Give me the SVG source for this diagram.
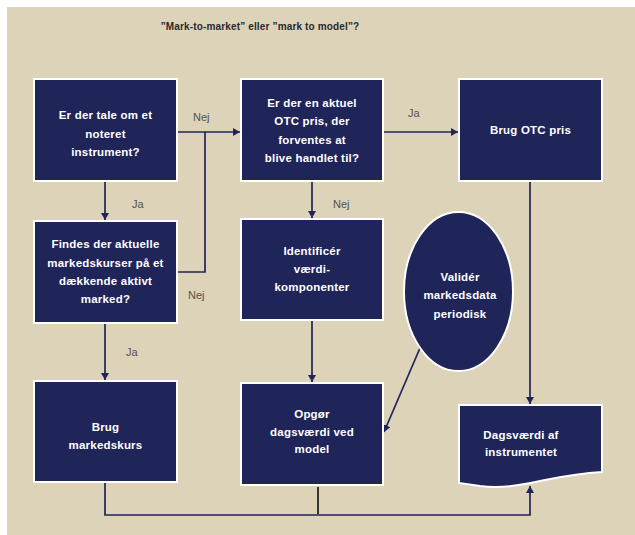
<svg xmlns="http://www.w3.org/2000/svg" width="635" height="535" viewBox="0 0 635 535">
<style>
.node{fill:#1F2459;stroke:#ffffff;stroke-width:2}
.t{font-family:"Liberation Sans",Arial,sans-serif;font-size:11.5px;font-weight:bold;fill:#ffffff;text-anchor:middle;letter-spacing:0.2px}
.lbl{font-family:"Liberation Sans",Arial,sans-serif;font-size:11px;fill:#55524a}
.c{fill:none;stroke:#1F2459;stroke-width:1.7}
</style>
<defs>
<marker id="ah" markerWidth="8" markerHeight="8" refX="7" refY="4" orient="auto" markerUnits="userSpaceOnUse">
<path d="M0,0 L7,4 L0,8 Z" fill="#1F2459"/>
</marker>
</defs>
<rect x="7" y="7" width="628" height="528" fill="#DDD3B9"/>
<text x="260" y="30" font-family="Liberation Sans,Arial,sans-serif" font-size="10" font-weight="bold" fill="#2a2a2a" text-anchor="middle" letter-spacing="0.15">”Mark-to-market” eller ”mark to model”?</text>

<g id="connectors">
<line class="c" x1="177" y1="132" x2="240" y2="132" marker-end="url(#ah)"/>
<polyline class="c" points="177,272 205,272 205,132"/>
<line class="c" x1="105" y1="181" x2="105" y2="220" marker-end="url(#ah)"/>
<line class="c" x1="105" y1="323" x2="105" y2="380" marker-end="url(#ah)"/>
<line class="c" x1="383" y1="132" x2="458" y2="132" marker-end="url(#ah)"/>
<line class="c" x1="312" y1="181" x2="312" y2="218" marker-end="url(#ah)"/>
<line class="c" x1="312" y1="320" x2="312" y2="382" marker-end="url(#ah)"/>
<line class="c" x1="530" y1="181" x2="530" y2="404" marker-end="url(#ah)"/>
<line class="c" x1="420" y1="348" x2="384" y2="432" marker-end="url(#ah)"/>
<polyline class="c" points="105,482 105,515 530,515 530,486" marker-end="url(#ah)"/>
<line x1="318" y1="487" x2="318" y2="514" stroke="#000000" stroke-width="1.5"/>
<text class="lbl" x="193" y="121">Nej</text>
<text class="lbl" x="132" y="208">Ja</text>
<text class="lbl" x="188" y="299">Nej</text>
<text class="lbl" x="126" y="356">Ja</text>
<text class="lbl" x="408" y="117">Ja</text>
<text class="lbl" x="333" y="208">Nej</text>
</g>

<g id="n1">
<rect class="node" x="34" y="79" width="143" height="102"/>
<text class="t" x="105.5" y="119">Er der tale om et</text>
<text class="t" x="105.5" y="137.5">noteret</text>
<text class="t" x="105.5" y="156">instrument?</text>
</g>
<g id="n2">
<rect class="node" x="34" y="221" width="143" height="102"/>
<text class="t" x="105.5" y="248">Findes der aktuelle</text>
<text class="t" x="105.5" y="266.5">markedskurser på et</text>
<text class="t" x="105.5" y="285">dækkende aktivt</text>
<text class="t" x="105.5" y="303">marked?</text>
</g>
<g id="n3">
<rect class="node" x="34" y="381" width="143" height="101"/>
<text class="t" x="105.5" y="431">Brug</text>
<text class="t" x="105.5" y="449">markedskurs</text>
</g>
<g id="n4">
<rect class="node" x="241" y="79" width="142" height="102"/>
<text class="t" x="312" y="107">Er der en aktuel</text>
<text class="t" x="312" y="125">OTC pris, der</text>
<text class="t" x="312" y="143.5">forventes at</text>
<text class="t" x="312" y="162">blive handlet til?</text>
</g>
<g id="n5">
<rect class="node" x="459" y="79" width="143" height="102"/>
<text class="t" x="530.5" y="134">Brug OTC pris</text>
</g>
<g id="n6">
<rect class="node" x="241" y="219" width="142" height="101"/>
<text class="t" x="312" y="255">Identificér</text>
<text class="t" x="312" y="273">værdi-</text>
<text class="t" x="312" y="291">komponenter</text>
</g>
<g id="n7">
<rect class="node" x="241" y="383" width="142" height="102"/>
<text class="t" x="312" y="418">Opgør</text>
<text class="t" x="312" y="436">dagsværdi ved</text>
<text class="t" x="312" y="453">model</text>
</g>
<g id="n8">
<ellipse class="node" cx="458.5" cy="291.5" rx="54.5" ry="79.5"/>
<text class="t" x="460" y="281">Validér</text>
<text class="t" x="460" y="299">markedsdata</text>
<text class="t" x="460" y="318">periodisk</text>
</g>
<g id="n9">
<path class="node" d="M459,405 L602,405 L602,472 C585,473 565,476 545,480 C525,484 505,489 480,486 L459,483 Z"/>
<text class="t" x="521" y="439">Dagsværdi af</text>
<text class="t" x="521" y="456">instrumentet</text>
</g>
</svg>
